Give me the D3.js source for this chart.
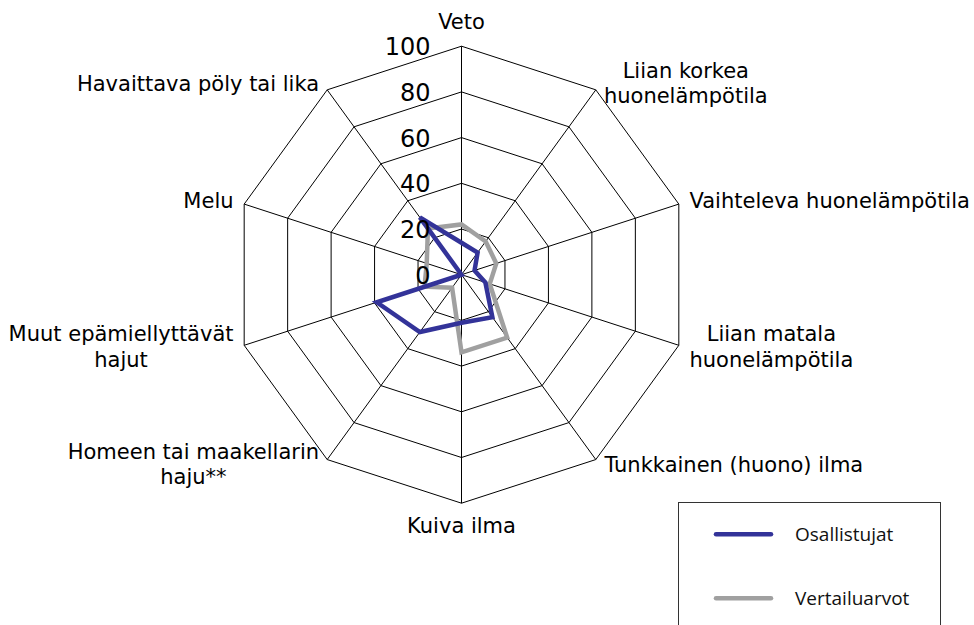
<!DOCTYPE html>
<html>
<head>
<meta charset="utf-8">
<script src="https://cdn.jsdelivr.net/npm/d3@7"></script>
<style>
  body { margin: 0; background: #fff; }
  svg { display: block; }
  .cat { font-family: "DejaVu Sans", Verdana, sans-serif; font-size: 21px; fill: #000; }
  .tick { font-family: "DejaVu Sans", Verdana, sans-serif; font-size: 24px; fill: #000; }
  .leg { font-family: "Open Sans", sans-serif; font-size: 19px; fill: #111; }
</style>
</head>
<body>
<div class="chart"></div>
<script>
var categories = [
  "Veto",
  "Liian korkea\nhuonelämpötila",
  "Vaihteleva huonelämpötila",
  "Liian matala\nhuonelämpötila",
  "Tunkkainen (huono) ilma",
  "Kuiva ilma",
  "Homeen tai maakellarin\nhaju**",
  "Muut epämiellyttävät\nhajut",
  "Melu",
  "Havaittava pöly tai lika"
];
var osallistujat = [14, 12, 6, 11, 23, 21, 31, 39, 0, 31];
var vertailuarvot = [22, 18, 16, 13, 34, 34, 7, 17, 16, 25];
var tickValues = [0, 20, 40, 60, 80, 100];
var seriesNames = ["Osallistujat", "Vertailuarvot"];
var seriesColors = ["#333399", "#a0a0a0"];

var width = 974, height = 625;
var cx = 461.5, cy = 274.7;

var svg = d3.select('div.chart')
  .append('svg')
  .attr('width', width)
  .attr('height', height);

var r = d3.scaleLinear()
  .domain([0, 100])
  .range([0, 228.5]);

var a = d3.scaleLinear()
  .domain([0, categories.length])
  .range([0, 2 * Math.PI]);

function px(i, v) { return cx + r(v) * Math.sin(a(i)); }
function py(i, v) { return cy - r(v) * Math.cos(a(i)); }

var g = svg.append('g');

// grid rings
tickValues.slice(1).forEach(function(t) {
  var pts = categories.map(function(c, i) { return [px(i, t), py(i, t)]; });
  g.append('polygon')
    .attr('points', pts.map(function(p) { return p.join(','); }).join(' '))
    .attr('fill', 'none')
    .attr('stroke', '#000')
    .attr('stroke-width', 1);
});

// spokes
g.selectAll('.spoke')
  .data(categories)
  .enter()
  .append('line')
  .attr('class', 'spoke')
  .attr('x1', cx).attr('y1', cy)
  .attr('x2', function(d, i) { return px(i, 100); })
  .attr('y2', function(d, i) { return py(i, 100); })
  .attr('stroke', '#000')
  .attr('stroke-width', 1);

// series (grey under blue)
var line = d3.lineRadial()
  .angle(function(d, i) { return a(i); })
  .radius(function(d) { return r(d); })
  .curve(d3.curveLinearClosed);

var series = [osallistujat, vertailuarvot];
[1, 0].forEach(function(k) {
  g.append('path')
    .datum(series[k])
    .attr('transform', 'translate(' + cx + ',' + cy + ')')
    .attr('d', line)
    .attr('fill', 'none')
    .attr('stroke', seriesColors[k])
    .attr('stroke-width', 4.5)
    .attr('stroke-linejoin', 'miter');
});

// tick labels
g.selectAll('.tick')
  .data(tickValues)
  .enter()
  .append('text')
  .attr('class', 'tick')
  .attr('x', cx - 31)
  .attr('y', function(d) { return cy - r(d) + 9; })
  .attr('text-anchor', 'end')
  .text(function(d) { return d; });

// category labels
var lineH = 25.5;
categories.forEach(function(c, i) {
  var lines = c.split('\n');
  var s = Math.sin(a(i)), co = Math.cos(a(i));
  var vx = px(i, 100), vy = py(i, 100);
  var t = g.append('text').attr('class', 'cat').attr('text-anchor', 'middle');
  lines.forEach(function(l, j) {
    t.append('tspan').attr('x', 0).attr('y', j * lineH).text(l);
  });
  var w = t.node().getBBox().width;
  var bx;
  if (Math.abs(s) < 0.1) bx = vx;
  else if (s > 0) bx = vx + 4 + 7 * Math.abs(s) + w / 2;
  else bx = vx - 4 - 7 * Math.abs(s) - w / 2;
  var off = Math.abs(co) > 0.95 ? 23.5 : 7;
  var centerY = vy - co * off;
  var y1 = centerY + 6.5 - (lines.length - 1) * lineH / 2;
  t.attr('transform', 'translate(' + bx + ',' + y1 + ')');
});

// legend
var leg = svg.append('g');
leg.append('rect')
  .attr('x', 678.5).attr('y', 502.5)
  .attr('width', 262).attr('height', 140)
  .attr('fill', '#fff')
  .attr('stroke', '#333')
  .attr('stroke-width', 1);

seriesNames.forEach(function(n, i) {
  var y = 534.3 + i * 64;
  leg.append('line')
    .attr('x1', 716).attr('x2', 771)
    .attr('y1', y).attr('y2', y)
    .attr('stroke', seriesColors[i])
    .attr('stroke-width', 4.5)
    .attr('stroke-linecap', 'round');
  leg.append('text')
    .attr('class', 'leg')
    .attr('x', 795).attr('y', y + 7)
    .text(n);
});
</script>
</body>
</html>
